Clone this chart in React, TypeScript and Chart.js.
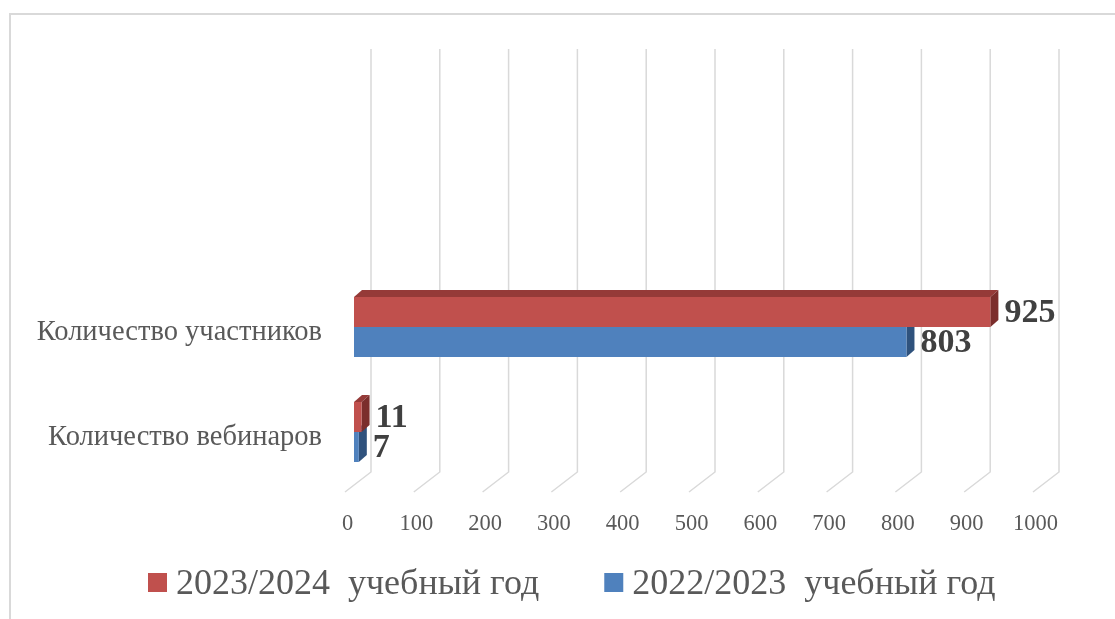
import React, { useEffect, useRef } from 'react';
import { Chart, registerables } from 'chart.js';

Chart.register(...registerables);

// ---- data ----
const categories = ['Количество участников', 'Количество вебинаров'];
const seriesNames = ['2023/2024  учебный год', '2022/2023  учебный год'];
const values2024 = [925, 11];
const values2023 = [803, 7];
const xMin = 0;
const xMax = 1000;
const xStep = 100;

// ---- styles ----
const FONT = "'Liberation Serif', 'Times New Roman', serif";
const frontColors = ['#C0504D', '#4F81BD'];
const topColors = ['#953A38', '#3B6498'];
const sideColors = ['#7B2E2C', '#2F527D'];
const DX = 8;
const DY = 7;

const backdropPlugin = {
  id: 'backdrop3d',
  beforeDatasetsDraw(chart: any) {
    const ctx = chart.ctx;
    const xs = chart.scales.x;
    ctx.save();
    ctx.strokeStyle = '#d9d9d9';
    ctx.lineWidth = 1.5;
    for (let v = xMin; v <= xMax; v += xStep) {
      const px = xs.getPixelForValue(v);
      ctx.beginPath();
      ctx.moveTo(px + 17, 49);
      ctx.lineTo(px + 17, 472);
      ctx.lineTo(px - 9, 492);
      ctx.stroke();
    }
    for (let di = chart.data.datasets.length - 1; di >= 0; di--) {
      const meta = chart.getDatasetMeta(di);
      meta.data.forEach((bar: any) => {
        const { x, y, base, height } = bar.getProps(['x', 'y', 'base', 'height'], true);
        const top = y - height / 2;
        const bot = y + height / 2;
        ctx.fillStyle = topColors[di];
        ctx.beginPath();
        ctx.moveTo(base, top);
        ctx.lineTo(base + DX, top - DY);
        ctx.lineTo(x + DX, top - DY);
        ctx.lineTo(x, top);
        ctx.closePath();
        ctx.fill();
        ctx.fillStyle = sideColors[di];
        ctx.beginPath();
        ctx.moveTo(x, top);
        ctx.lineTo(x + DX, top - DY);
        ctx.lineTo(x + DX, bot - DY);
        ctx.lineTo(x, bot);
        ctx.closePath();
        ctx.fill();
      });
    }
    ctx.restore();
  },
};

const valueLabelPlugin = {
  id: 'valueLabels',
  afterDatasetsDraw(chart: any) {
    const ctx = chart.ctx;
    ctx.save();
    ctx.font = `bold 34px ${FONT}`;
    ctx.fillStyle = '#404040';
    ctx.textAlign = 'left';
    ctx.textBaseline = 'middle';
    chart.data.datasets.forEach((ds: any, di: number) => {
      const meta = chart.getDatasetMeta(di);
      meta.data.forEach((bar: any, i: number) => {
        const { x, y } = bar.getProps(['x', 'y'], true);
        ctx.fillText(String(ds.data[i]), x + DX + 6, y + 1);
      });
    });
    ctx.restore();
  },
};

const legendPlugin = {
  id: 'customLegend',
  afterDraw(chart: any) {
    const ctx = chart.ctx;
    ctx.save();
    ctx.font = `36px ${FONT}`;
    ctx.textBaseline = 'middle';
    ctx.textAlign = 'left';
    let x = 148;
    const boxTop = 573;
    const box = 19;
    chart.data.datasets.forEach((ds: any) => {
      ctx.fillStyle = ds.backgroundColor;
      ctx.fillRect(x, boxTop, box, box);
      x += box + 9;
      ctx.fillStyle = '#595959';
      ctx.fillText(ds.label, x, 585);
      x += ctx.measureText(ds.label).width + 65;
    });
    ctx.restore();
  },
};

export default function App() {
  const canvasRef = useRef<HTMLCanvasElement>(null);

  useEffect(() => {
    if (!canvasRef.current) return;
    const chart = new Chart(canvasRef.current, {
      type: 'bar',
      data: {
        labels: categories,
        datasets: [
          { label: seriesNames[0], data: values2024, backgroundColor: frontColors[0], borderWidth: 0 },
          { label: seriesNames[1], data: values2023, backgroundColor: frontColors[1], borderWidth: 0 },
        ],
      },
      options: {
        indexAxis: 'y',
        animation: false,
        responsive: false,
        maintainAspectRatio: false,
        events: [],
        layout: { padding: { top: 274.5, right: 73, bottom: 74.5, left: 0 } },
        datasets: {
          bar: { categoryPercentage: 60 / 105, barPercentage: 1 },
        },
        plugins: {
          legend: { display: false },
          title: { display: false },
          tooltip: { enabled: false },
        },
        scales: {
          x: {
            type: 'linear',
            min: xMin,
            max: xMax,
            grid: { display: false, drawTicks: false },
            border: { display: false },
            ticks: {
              stepSize: xStep,
              autoSkip: false,
              maxRotation: 0,
              padding: 26,
              labelOffset: -6.5,
              color: '#595959',
              font: { family: FONT, size: 22.5 },
              callback: (v: any) => String(v),
            },
            afterFit(scale: any) {
              scale.height = 60;
            },
          },
          y: {
            type: 'category',
            grid: { display: false, drawTicks: false },
            border: { display: false },
            ticks: {
              padding: 32,
              labelOffset: 6,
              color: '#595959',
              font: { family: FONT, size: 28.5 },
            },
            afterFit(scale: any) {
              scale.width = 354;
            },
          },
        },
      },
      plugins: [backdropPlugin, valueLabelPlugin, legendPlugin],
    });
    return () => chart.destroy();
  }, []);

  return (
    <div
      style={{
        position: 'fixed',
        left: 0,
        top: 0,
        width: 1115,
        height: 619,
        background: '#ffffff',
        overflow: 'hidden',
      }}
    >
      <div
        style={{
          position: 'absolute',
          left: 9,
          top: 13,
          width: 1300,
          height: 800,
          borderTop: '2px solid #d9d9d9',
          borderLeft: '2px solid #d9d9d9',
        }}
      />
      <canvas
        ref={canvasRef}
        width={1115}
        height={619}
        style={{ position: 'absolute', left: 0, top: 0, width: 1115, height: 619 }}
      />
    </div>
  );
}
